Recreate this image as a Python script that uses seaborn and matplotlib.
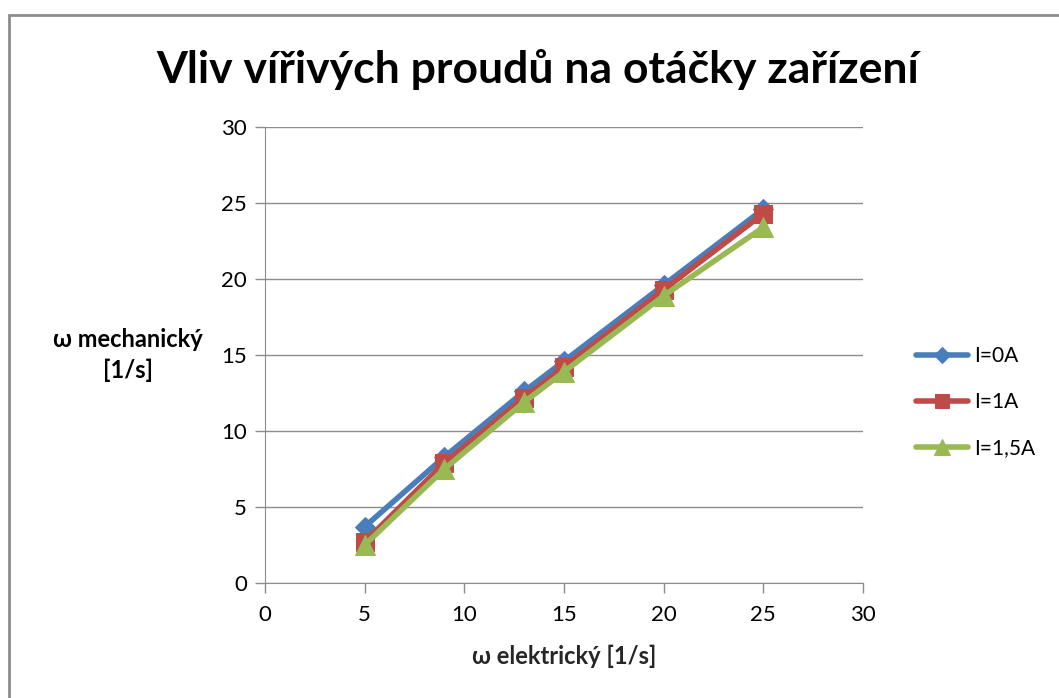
import numpy as np
import pandas as pd
import seaborn as sns
import matplotlib.pyplot as plt
from matplotlib.patches import Rectangle

# data
omega_el = [5, 9, 13, 15, 20, 25]
i_0a = [3.7, 8.3, 12.6, 14.6, 19.6, 24.6]
i_1a = [2.7, 7.9, 12.2, 14.2, 19.3, 24.3]
i_15a = [2.5, 7.5, 11.9, 13.9, 18.9, 23.4]
series_names = ["I=0A", "I=1A", "I=1,5A"]

df = pd.DataFrame({
    "x": omega_el * 3,
    "y": i_0a + i_1a + i_15a,
    "serie": [n for n in series_names for _ in omega_el],
})

sns.set_style("white")
plt.rcParams["font.family"] = ["Lato", "DejaVu Sans"]
plt.rcParams["text.color"] = "black"

colors = ["#4A7EBB", "#BE4B48", "#98B954"]
markers = {"I=0A": "D", "I=1A": "s", "I=1,5A": "^"}
msize = {"I=0A": 10, "I=1A": 13, "I=1,5A": 14}

fig = plt.figure(figsize=(10.59, 6.98), dpi=100)
ax = fig.add_axes([265 / 1059, 1 - 583 / 698, 598 / 1059, 456 / 698])

for name, c in zip(series_names, colors):
    sub = df[df.serie == name]
    sns.lineplot(data=sub, x="x", y="y", ax=ax, color=c, lw=4,
                 marker=markers[name], markersize=msize[name],
                 markeredgecolor=c, label=name)

ax.set_xlim(0, 30)
ax.set_ylim(0, 30)
ax.set_xticks(range(0, 31, 5))
ax.set_yticks(range(0, 31, 5))
ax.yaxis.grid(True, color="#8c8c8c", lw=1)
ax.xaxis.grid(False)
for s in ["top", "right"]:
    ax.spines[s].set_visible(False)
for s in ["left", "bottom"]:
    ax.spines[s].set_color("#8c8c8c")
ax.tick_params(axis="both", bottom=True, left=True, direction="out", length=7,
               width=1, color="#8c8c8c", labelsize=16, labelcolor="black", pad=6)
ax.tick_params(axis="x", pad=9)

ax.set_xlabel("ω elektrický [1/s]", fontsize=17, fontweight="bold", labelpad=14)
ax.set_ylabel("")
fig.text(128 / 1059, 1 - 355 / 698, "ω mechanický\n[1/s]", fontsize=17,
         fontweight="bold", ha="center", va="center", linespacing=1.35)

fig.suptitle("Vliv vířivých proudů na otáčky zařízení", x=538 / 1059,
             y=1 - 70 / 698, va="center", fontsize=32, fontweight="bold")

leg = ax.legend(loc="center left", bbox_to_anchor=(912 / 1059, 1 - 402 / 698),
                bbox_transform=fig.transFigure, frameon=False, fontsize=15,
                handlelength=2.5, labelspacing=1.25, handletextpad=0.3,
                markerscale=0.8, borderaxespad=0, borderpad=0.2)

fig.patches.append(Rectangle((9 / 1059, -0.1), 1.2, 1 - 15 / 698 + 0.1,
                             transform=fig.transFigure, fill=False,
                             edgecolor="#8c8c8c", lw=2))

fig.savefig("out.png", dpi=100)
